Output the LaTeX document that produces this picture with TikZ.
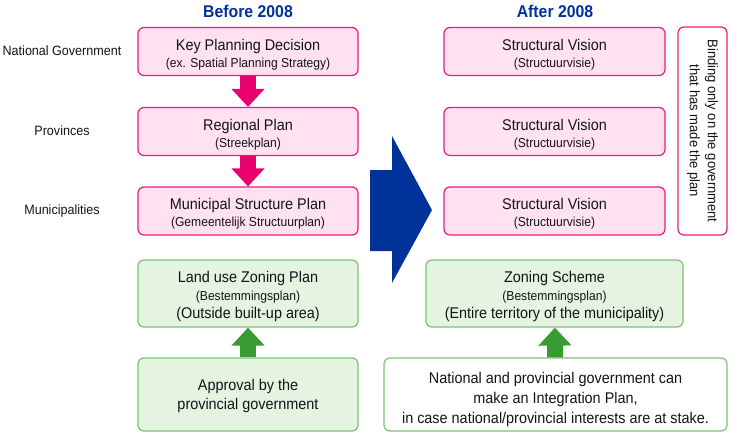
\documentclass[tikz,border=0pt]{standalone}
\usepackage{fontspec}
\setmainfont{Liberation Sans}[FakeStretch=0.93]
\usetikzlibrary{arrows.meta, positioning}

\definecolor{pinkline}{RGB}{232,30,120}
\definecolor{pinkfill}{RGB}{255,225,242}
\definecolor{pinkarrow}{RGB}{232,0,110}
\definecolor{greenline}{RGB}{122,196,112}
\definecolor{greenfill}{RGB}{228,244,225}
\definecolor{greenarrow}{RGB}{58,155,50}
\definecolor{navy}{RGB}{0,51,153}
\definecolor{ink}{RGB}{20,20,20}

\newcommand{\bigsz}{\fontsize{15.5}{18}\selectfont}
\newcommand{\subsz}{\fontsize{13}{17}\selectfont}
\newcommand{\lblsz}{\fontsize{13.5}{18}\selectfont}
\newcommand{\lift}[1]{\rule{0pt}{#1}}

\begin{document}
\begin{tikzpicture}[
  x=1pt, y=-1pt,
  text=ink,
  planbox/.style={draw=pinkline, fill=pinkfill, line width=1.2pt, rounded corners=6pt,
    minimum width=220pt, minimum height=48pt, align=center, inner sep=0pt, font=\bigsz},
  zonebox/.style={draw=greenline, fill=greenfill, line width=1.2pt, rounded corners=6pt,
    minimum width=220pt, minimum height=67pt, align=center, inner sep=0pt, font=\bigsz},
  level/.style={font=\lblsz},
  title/.style={font=\fontsize{17}{20}\selectfont\bfseries, text=navy},
  down/.style={line width=16pt, draw=pinkarrow, -{Triangle[width=32pt,length=18pt]}},
  up/.style={line width=16pt, draw=greenarrow, -{Triangle[width=32pt,length=18pt]}},
]
  \useasboundingbox (0,0) rectangle (730,433);

  % Column titles
  \node[title] (before) at (248,11) {Before 2008};
  \node[title] (after)  at (555,11) {After 2008};

  % Government levels
  \node[level] (natl) at (62,51)  {National Government};
  \node[level] (prov) at (62,131) {Provinces};
  \node[level] (muni) at (62,211) {Municipalities};

  % Before 2008: plans
  \node[planbox] (kpd) at (248,51.5)
    {\lift{17pt}Key Planning Decision\\[-1pt]{\subsz (ex. Spatial Planning Strategy)}};
  \node[planbox] (reg) at (248,131.5)
    {\lift{17pt}Regional Plan\\[-1pt]{\subsz (Streekplan)}};
  \node[planbox] (msp) at (248,211)
    {\lift{17pt}Municipal Structure Plan\\[-1pt]{\subsz (Gemeentelijk Structuurplan)}};
  \draw[down] (kpd) -- (reg);
  \draw[down] (reg) -- (msp);

  % Before 2008: zoning
  \node[zonebox] (luz) at (248,293.5)
    {\lift{18pt}Land use Zoning Plan\\{\subsz (Bestemmingsplan)}\\(Outside built-up area)};
  \node[zonebox, minimum height=73pt] (appr) at (248,394.5)
    {\lift{14pt}Approval by the\\[1pt] provincial government};
  \draw[up] (appr) -- (luz);

  % Transition arrow
  \fill[navy] (370,170) -- (392,170) -- (392,136) -- (432,210)
    -- (392,283) -- (392,251) -- (370,251) -- cycle;

  % After 2008: structural visions
  \node[planbox, minimum width=221pt] (sv1) at (554.5,51.5)
    {\lift{17pt}Structural Vision\\[-1pt]{\subsz (Structuurvisie)}};
  \node[planbox, minimum width=221pt] (sv2) at (554.5,131.5)
    {\lift{17pt}Structural Vision\\[-1pt]{\subsz (Structuurvisie)}};
  \node[planbox, minimum width=221pt] (sv3) at (554.5,211)
    {\lift{17pt}Structural Vision\\[-1pt]{\subsz (Structuurvisie)}};
  \node[planbox, fill=white, rotate=-90, minimum width=208pt, minimum height=49pt,
    font=\fontsize{14}{18}\selectfont] (bind) at (702.5,131)
    {Binding only on the government\\that has made the plan};

  % After 2008: zoning
  \node[zonebox, minimum width=257pt] (zs) at (554.5,293.5)
    {\lift{18pt}Zoning Scheme\\{\subsz (Bestemmingsplan)}\\(Entire territory of the municipality)};
  \node[zonebox, fill=white, minimum width=343pt, minimum height=73pt] (integ) at (555.5,394.5)
    {\lift{21pt}National and provincial government can\\[2pt] make an Integration Plan,\\[2pt]
     in case national/provincial interests are at stake.};
  \draw[up] (integ) -- (zs);
\end{tikzpicture}
\end{document}
